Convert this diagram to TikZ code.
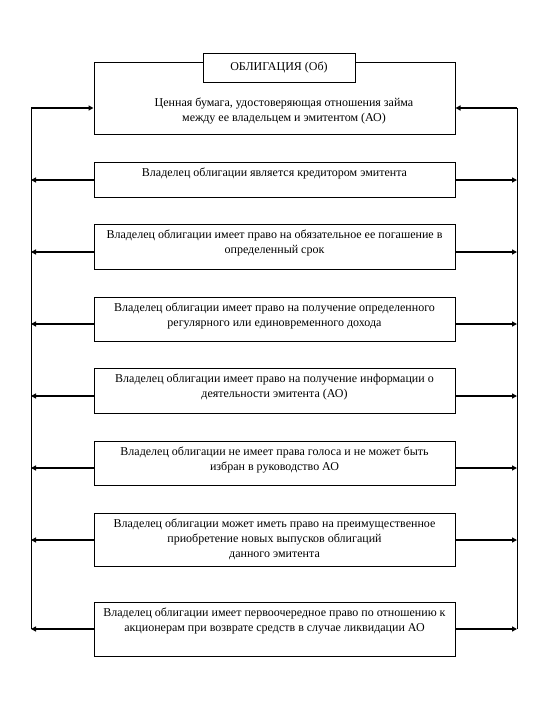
\documentclass[tikz,border=0pt]{standalone}
\usepackage{fontspec}
\setmainfont{Liberation Serif}
\usetikzlibrary{arrows.meta}
\begin{document}
\begin{tikzpicture}[x=1pt,y=-1pt,
  box/.style={draw, line width=1pt, fill=white, minimum width=361pt, inner sep=0pt, anchor=north},
  txt/.style={anchor=north, align=center, font=\fontsize{12}{15}\selectfont, inner sep=0pt},
  arr/.style={line width=1.6pt, -{Triangle[length=5pt,width=5pt]}},
  vline/.style={line width=1pt}]
\useasboundingbox (0,0) rectangle (540,720);
% main box and title
\node[box, minimum height=72pt] (m) at (274.5,62) {};
\node[draw, line width=1pt, fill=white, minimum width=152pt, minimum height=29pt, inner sep=0pt,
      font=\fontsize{12}{15}\selectfont] (t) at (279,67.5) {ОБЛИГАЦИЯ (Об)};
\node[txt] (mt) at (284,98) {Ценная бумага, удостоверяющая отношения займа\\между ее владельцем и эмитентом (АО)};
% boxes
\node[box, minimum height=35pt] (b2) at (274.5,162) {};
\node[txt] (t2) at (274.5,168) {Владелец облигации является кредитором эмитента};
\node[box, minimum height=45pt] (b3) at (274.5,224) {};
\node[txt] (t3) at (274.5,230) {Владелец облигации имеет право на обязательное ее погашение в\\определенный срок};
\node[box, minimum height=44pt] (b4) at (274.5,297) {};
\node[txt] (t4) at (274.5,303) {Владелец облигации имеет право на получение определенного\\регулярного или единовременного дохода};
\node[box, minimum height=45pt] (b5) at (274.5,368) {};
\node[txt] (t5) at (274.5,374) {Владелец облигации имеет право на получение информации о\\деятельности эмитента (АО)};
\node[box, minimum height=44pt] (b6) at (274.5,441) {};
\node[txt] (t6) at (274.5,447) {Владелец облигации не имеет права голоса и не может быть\\избран в руководство АО};
\node[box, minimum height=53pt] (b7) at (274.5,513) {};
\node[txt] (t7) at (274.5,519) {Владелец облигации может иметь право на преимущественное\\приобретение новых выпусков облигаций\\данного эмитента};
\node[box, minimum height=54pt] (b8) at (274.5,602) {};
\node[txt] (t8) at (274.5,608) {Владелец облигации имеет первоочередное право по отношению к\\акционерам при возврате средств в случае ликвидации АО};
% side lines
\coordinate (L0) at (31,108);
\coordinate (R0) at (517,108);
\coordinate (L8) at (31,629);
\coordinate (R8) at (517,629);
\draw[vline] (L0) -- (L8);
\draw[vline] (R0) -- (R8);
% arrows into main box
\draw[arr] (L0) -- (L0 -| m.west);
\draw[arr] (R0) -- (R0 -| m.east);
% arrows out of boxes
\foreach \b/\yy in {b2/180, b3/252, b4/324, b5/396, b6/468, b7/540, b8/629} {
  \draw[arr] (\b.west |- 0,\yy) -- (L0 |- 0,\yy);
  \draw[arr] (\b.east |- 0,\yy) -- (R0 |- 0,\yy);
}
\end{tikzpicture}
\end{document}
